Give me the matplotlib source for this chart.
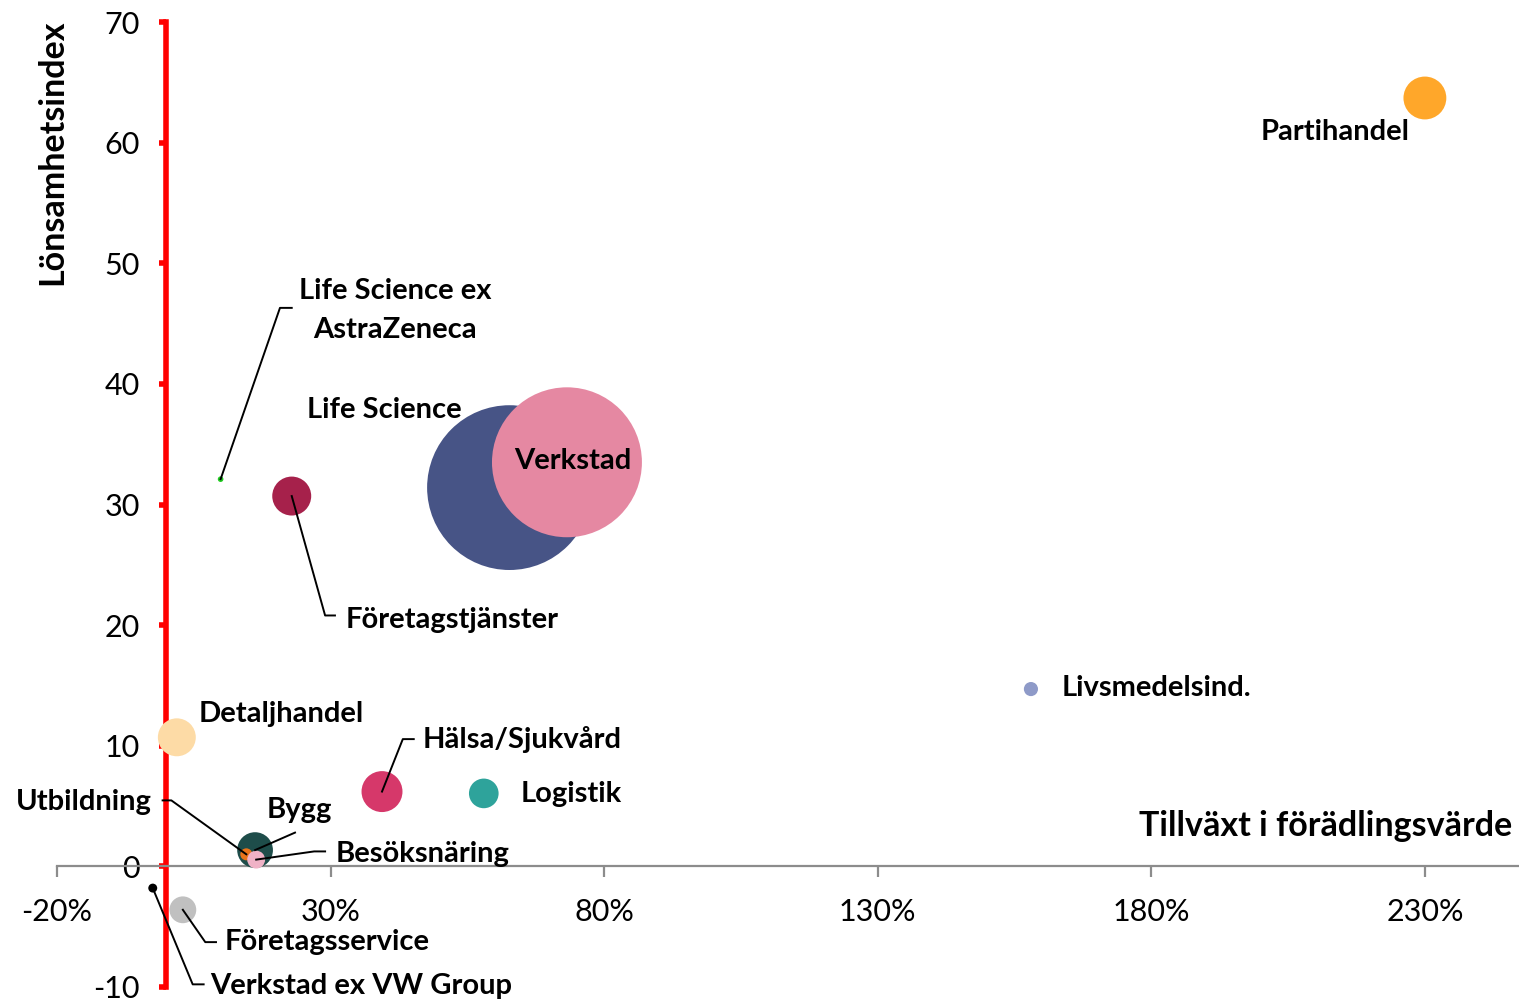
import numpy as np
import matplotlib.pyplot as plt

plt.rcParams['axes.unicode_minus'] = False

# branscher: tillväxt i förädlingsvärde (%), lönsamhetsindex, relativ storlek
branscher = ['Partihandel', 'Life Science ex AstraZeneca', 'Företagstjänster', 'Life Science',
             'Verkstad', 'Livsmedelsind.', 'Detaljhandel', 'Hälsa/Sjukvård', 'Logistik',
             'Bygg', 'Utbildning', 'Besöksnäring', 'Företagsservice', 'Verkstad ex VW Group']
tillvaxt = [230.0, 9.9, 22.9, 62.7, 73.2, 158.0, 1.9, 39.4, 58.0, 16.2, 14.6, 16.4, 3.0, -2.5]
lonsamhet = [63.7, 32.1, 30.7, 31.4, 33.5, 14.7, 10.7, 6.2, 6.05, 1.35, 1.0, 0.56, -3.6, -1.8]
storlek = [46, 0.8, 38, 680, 563, 5, 36, 42, 22, 32, 3.6, 8, 18, 2]
farger = ['#FFA72A', '#22CC22', '#A6214B', '#475486', '#E588A2', '#8E9AC8', '#FDDBA6',
          '#D6386A', '#2EA39B', '#1E4D4A', '#E8731A', '#EFB2C6', '#C0C0C0', '#000000']

xticks = [-20, 30, 80, 130, 180, 230]
yticks = [-10, 0, 10, 20, 30, 40, 50, 60, 70]

fig = plt.figure(figsize=(15.19, 10.02), dpi=100)
ax = fig.add_axes([57/1519, 15/1002, 1462/1519, 965/1002])
ax.set_xlim(-20, 247.2)
ax.set_ylim(-10, 70)

# bubblor
s = np.array(storlek) * 20.7
ax.scatter(tillvaxt, lonsamhet, s=s, c=farger, linewidths=0, zorder=3, clip_on=False)

lab = dict(family='Lato', fontweight='bold', fontsize=21, color='black', zorder=6)

# etiketter utan linje
ax.text(213.6, 60.9, 'Partihandel', ha='center', va='center', **lab)
ax.text(39.9, 37.8, 'Life Science', ha='center', va='center', **lab)
ax.text(74.3, 33.6, 'Verkstad', ha='center', va='center', **lab)
ax.text(163.7, 14.75, 'Livsmedelsind.', ha='left', va='center', **lab)
ax.text(20.9, 12.6, 'Detaljhandel', ha='center', va='center', **lab)
ax.text(73.9, 6.0, 'Logistik', ha='center', va='center', **lab)

# etiketter med linje: (index, text, textposition, brytpunkter)
ledare = [
    (1, 'Life Science ex\nAstraZeneca', (41.8, 46.1), [(20.75, 46.3), (22.9, 46.3)]),
    (2, 'Företagstjänster', (52.2, 20.4), [(29.0, 20.8), (30.8, 20.8)]),
    (7, 'Hälsa/Sjukvård', (65.0, 10.5), [(43.2, 10.55), (45.2, 10.55)]),
    (10, 'Utbildning', (-15.1, 5.3), [(0.9, 5.47), (-0.7, 5.47)]),
    (9, 'Bygg', (24.2, 4.7), [(23.5, 2.8)]),
    (11, 'Besöksnäring', (46.9, 1.0), [(27.0, 1.24), (29.0, 1.24)]),
    (12, 'Företagsservice', (29.3, -6.3), [(7.1, -6.28), (9.06, -6.28)]),
    (13, 'Verkstad ex VW Group', (35.6, -9.9), [(4.8, -9.78), (6.8, -9.78)]),
]
for i, txt, pos, pts in ledare:
    xs = [tillvaxt[i]] + [p[0] for p in pts]
    ys = [lonsamhet[i]] + [p[1] for p in pts]
    ax.plot(xs, ys, color='black', lw=1.4, zorder=5, clip_on=False)
    ax.text(pos[0], pos[1], txt, ha='center', va='center', linespacing=1.6,
            clip_on=False, **lab)

# axlar
for sp in ['top', 'right']:
    ax.spines[sp].set_visible(False)
ax.spines['left'].set_position(('data', 0))
ax.spines['left'].set_color('#FF0000')
ax.spines['left'].set_linewidth(4)
ax.spines['bottom'].set_position(('data', 0))
ax.spines['bottom'].set_color('#8C8C8C')
ax.spines['bottom'].set_linewidth(1.6)

ax.set_xticks(xticks)
ax.set_xticklabels([f'{t}%' for t in xticks])
ax.set_yticks(yticks)
ax.tick_params(axis='y', direction='out', length=5, width=4, color='#FF0000',
               pad=14, labelsize=22)
ax.tick_params(axis='x', direction='out', length=8, width=1.6, color='#8C8C8C',
               pad=15, labelsize=22)
for t in ax.get_xticklabels() + ax.get_yticklabels():
    t.set_family('Lato')
    t.set_fontweight('normal')
    t.set_color('black')

fig.text(52/1519, 1 - 152/1002, 'Lönsamhetsindex', rotation=90, ha='center', va='center',
         family='Lato', fontweight='bold', fontsize=24.5)
fig.text(1512/1519, 1 - 826/1002, 'Tillväxt i förädlingsvärde', ha='right', va='center',
         family='Lato', fontweight='bold', fontsize=24.5)

fig.savefig('out.png', dpi=100)
